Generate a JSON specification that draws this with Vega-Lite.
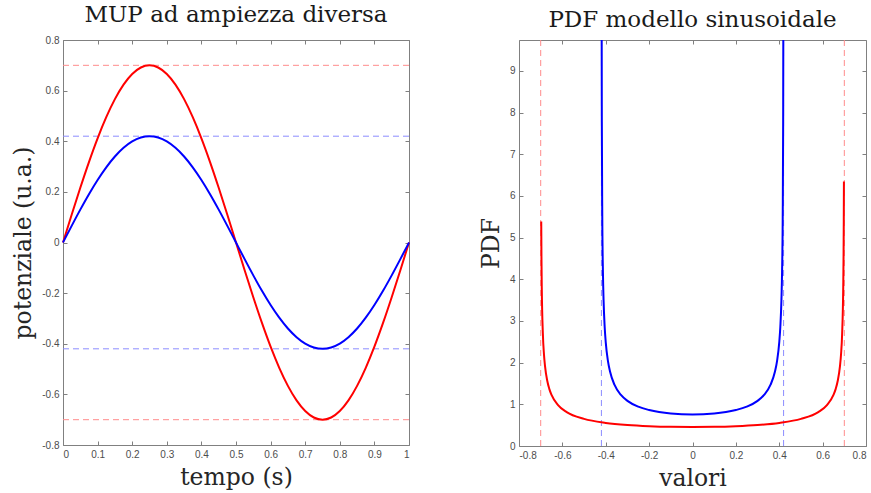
{
  "$schema": "https://vega.github.io/schema/vega-lite/v6.json",
  "padding": {"left": 11, "top": 3, "right": 0, "bottom": 0},
  "spacing": 64,
  "config": {
    "view": {"stroke": "#808080", "strokeWidth": 1},
    "axis": {
      "grid": false,
      "domain": false,
      "tickColor": "#808080",
      "tickSize": -4,
      "labelPadding": 8,
      "labelFont": "Liberation Sans",
      "labelFontSize": 10,
      "labelColor": "#4d4d4d",
      "titleFont": "DejaVu Serif",
      "titleFontSize": 23.5,
      "titleFontWeight": "normal",
      "titleColor": "#262626"
    },
    "title": {"font": "DejaVu Serif", "fontSize": 23, "fontWeight": "normal", "color": "#1a1a1a", "offset": 8}
  },
  "datasets": {
    "sine": [
      {"t": 0, "r": 0, "b": 0},
      {"t": 0.025, "r": 0.1095, "b": 0.0657},
      {"t": 0.05, "r": 0.2163, "b": 0.1298},
      {"t": 0.075, "r": 0.3178, "b": 0.1907},
      {"t": 0.1, "r": 0.4115, "b": 0.2469},
      {"t": 0.125, "r": 0.495, "b": 0.297},
      {"t": 0.15, "r": 0.5663, "b": 0.3398},
      {"t": 0.175, "r": 0.6237, "b": 0.3742},
      {"t": 0.2, "r": 0.6657, "b": 0.3994},
      {"t": 0.225, "r": 0.6914, "b": 0.4148},
      {"t": 0.25, "r": 0.7, "b": 0.42},
      {"t": 0.275, "r": 0.6914, "b": 0.4148},
      {"t": 0.3, "r": 0.6657, "b": 0.3994},
      {"t": 0.325, "r": 0.6237, "b": 0.3742},
      {"t": 0.35, "r": 0.5663, "b": 0.3398},
      {"t": 0.375, "r": 0.495, "b": 0.297},
      {"t": 0.4, "r": 0.4115, "b": 0.2469},
      {"t": 0.425, "r": 0.3178, "b": 0.1907},
      {"t": 0.45, "r": 0.2163, "b": 0.1298},
      {"t": 0.475, "r": 0.1095, "b": 0.0657},
      {"t": 0.5, "r": 0, "b": 0},
      {"t": 0.525, "r": -0.1095, "b": -0.0657},
      {"t": 0.55, "r": -0.2163, "b": -0.1298},
      {"t": 0.575, "r": -0.3178, "b": -0.1907},
      {"t": 0.6, "r": -0.4115, "b": -0.2469},
      {"t": 0.625, "r": -0.495, "b": -0.297},
      {"t": 0.65, "r": -0.5663, "b": -0.3398},
      {"t": 0.675, "r": -0.6237, "b": -0.3742},
      {"t": 0.7, "r": -0.6657, "b": -0.3994},
      {"t": 0.725, "r": -0.6914, "b": -0.4148},
      {"t": 0.75, "r": -0.7, "b": -0.42},
      {"t": 0.775, "r": -0.6914, "b": -0.4148},
      {"t": 0.8, "r": -0.6657, "b": -0.3994},
      {"t": 0.825, "r": -0.6237, "b": -0.3742},
      {"t": 0.85, "r": -0.5663, "b": -0.3398},
      {"t": 0.875, "r": -0.495, "b": -0.297},
      {"t": 0.9, "r": -0.4115, "b": -0.2469},
      {"t": 0.925, "r": -0.3178, "b": -0.1907},
      {"t": 0.95, "r": -0.2163, "b": -0.1298},
      {"t": 0.975, "r": -0.1095, "b": -0.0657},
      {"t": 1, "r": 0, "b": 0}
    ],
    "pdfRed": [
      {"x": -0.6975, "p": 5.385},
      {"x": -0.6965, "p": 4.553},
      {"x": -0.695, "p": 3.811},
      {"x": -0.69, "p": 2.7},
      {"x": -0.685, "p": 2.208},
      {"x": -0.68, "p": 1.916},
      {"x": -0.67, "p": 1.57},
      {"x": -0.66, "p": 1.365},
      {"x": -0.65, "p": 1.225},
      {"x": -0.62, "p": 0.98},
      {"x": -0.58, "p": 0.812},
      {"x": -0.5, "p": 0.65},
      {"x": -0.4, "p": 0.554},
      {"x": -0.3, "p": 0.503},
      {"x": -0.2, "p": 0.4745},
      {"x": -0.1, "p": 0.459},
      {"x": 0, "p": 0.4547},
      {"x": 0.1, "p": 0.459},
      {"x": 0.2, "p": 0.4745},
      {"x": 0.3, "p": 0.503},
      {"x": 0.4, "p": 0.554},
      {"x": 0.5, "p": 0.65},
      {"x": 0.58, "p": 0.812},
      {"x": 0.62, "p": 0.98},
      {"x": 0.65, "p": 1.225},
      {"x": 0.66, "p": 1.365},
      {"x": 0.67, "p": 1.57},
      {"x": 0.68, "p": 1.916},
      {"x": 0.685, "p": 2.208},
      {"x": 0.69, "p": 2.7},
      {"x": 0.695, "p": 3.811},
      {"x": 0.6965, "p": 4.553},
      {"x": 0.6975, "p": 5.385},
      {"x": 0.6982, "p": 6.345}
    ],
    "pdfBlue": [
      {"x": -0.4195, "p": 15.53},
      {"x": -0.419, "p": 10.99},
      {"x": -0.418, "p": 7.775},
      {"x": -0.416, "p": 5.504},
      {"x": -0.413, "p": 4.168},
      {"x": -0.41, "p": 3.494},
      {"x": -0.405, "p": 2.861},
      {"x": -0.4, "p": 2.486},
      {"x": -0.39, "p": 2.042},
      {"x": -0.38, "p": 1.779},
      {"x": -0.36, "p": 1.471},
      {"x": -0.33, "p": 1.225},
      {"x": -0.3, "p": 1.083},
      {"x": -0.25, "p": 0.943},
      {"x": -0.2, "p": 0.862},
      {"x": -0.1, "p": 0.78},
      {"x": 0, "p": 0.758},
      {"x": 0.1, "p": 0.78},
      {"x": 0.2, "p": 0.862},
      {"x": 0.25, "p": 0.943},
      {"x": 0.3, "p": 1.083},
      {"x": 0.33, "p": 1.225},
      {"x": 0.36, "p": 1.471},
      {"x": 0.38, "p": 1.779},
      {"x": 0.39, "p": 2.042},
      {"x": 0.4, "p": 2.486},
      {"x": 0.405, "p": 2.861},
      {"x": 0.41, "p": 3.494},
      {"x": 0.413, "p": 4.168},
      {"x": 0.416, "p": 5.504},
      {"x": 0.418, "p": 7.775},
      {"x": 0.419, "p": 10.99},
      {"x": 0.4195, "p": 15.53}
    ],
    "hlines": [
      {"v": 0.7, "s": "r"},
      {"v": -0.7, "s": "r"},
      {"v": 0.42, "s": "b"},
      {"v": -0.42, "s": "b"}
    ]
  },
  "hconcat": [
    {
      "width": 346,
      "height": 405,
      "title": {"text": "MUP ad ampiezza diversa"},
      "resolve": {"axis": {"x": "independent", "y": "independent"}},
      "layer": [
        {
          "data": {"name": "hlines"},
          "mark": {"type": "rule", "strokeDash": [6, 4], "strokeWidth": 1},
          "encoding": {
            "y": {"field": "v", "type": "quantitative", "scale": {"domain": [-0.8, 0.8], "nice": false}, "axis": null},
            "color": {"field": "s", "type": "nominal", "scale": {"domain": ["r", "b"], "range": ["#ff8c8c", "#8c8cff"]}, "legend": null}
          }
        },
        {
          "data": {"name": "sine"},
          "mark": {"type": "line", "color": "#ff0000", "strokeWidth": 2, "interpolate": "monotone"},
          "encoding": {
            "x": {"field": "t", "type": "quantitative", "scale": {"domain": [0, 1], "nice": false},
              "axis": {"values": [0, 0.1, 0.2, 0.3, 0.4, 0.5, 0.6, 0.7, 0.8, 0.9, 1], "labelExpr": "'' + datum.value", "title": "tempo (s)", "titlePadding": 6}},
            "y": {"field": "r", "type": "quantitative", "scale": {"domain": [-0.8, 0.8], "nice": false},
              "axis": {"values": [-0.8, -0.6, -0.4, -0.2, 0, 0.2, 0.4, 0.6, 0.8], "labelExpr": "'' + datum.value", "title": "potenziale (u.a.)", "titlePadding": 6}}
          }
        },
        {
          "data": {"name": "sine"},
          "mark": {"type": "line", "color": "#0000ff", "strokeWidth": 2, "interpolate": "monotone"},
          "encoding": {
            "x": {"field": "t", "type": "quantitative", "scale": {"domain": [0, 1], "nice": false},
              "axis": {"orient": "top", "values": [0, 0.1, 0.2, 0.3, 0.4, 0.5, 0.6, 0.7, 0.8, 0.9, 1], "labels": false, "title": null}},
            "y": {"field": "b", "type": "quantitative", "scale": {"domain": [-0.8, 0.8], "nice": false},
              "axis": {"orient": "right", "values": [-0.8, -0.6, -0.4, -0.2, 0, 0.2, 0.4, 0.6, 0.8], "labels": false, "title": null}}
          }
        }
      ]
    },
    {
      "width": 347,
      "height": 406,
      "title": {"text": "PDF modello sinusoidale"},
      "resolve": {"axis": {"x": "independent", "y": "independent"}},
      "layer": [
        {
          "data": {"name": "hlines"},
          "mark": {"type": "rule", "strokeDash": [6, 4], "strokeWidth": 1},
          "encoding": {
            "x": {"field": "v", "type": "quantitative", "scale": {"domain": [-0.8, 0.8], "nice": false}, "axis": null},
            "color": {"field": "s", "type": "nominal", "scale": {"domain": ["r", "b"], "range": ["#ff8c8c", "#8c8cff"]}, "legend": null}
          }
        },
        {
          "data": {"name": "pdfRed"},
          "mark": {"type": "line", "color": "#ff0000", "strokeWidth": 2, "interpolate": "monotone", "clip": true},
          "encoding": {
            "x": {"field": "x", "type": "quantitative", "scale": {"domain": [-0.8, 0.8], "nice": false},
              "axis": {"values": [-0.8, -0.6, -0.4, -0.2, 0, 0.2, 0.4, 0.6, 0.8], "labelExpr": "'' + datum.value", "title": "valori", "titlePadding": 6}},
            "y": {"field": "p", "type": "quantitative", "scale": {"domain": [0, 9.74], "nice": false},
              "axis": {"values": [0, 1, 2, 3, 4, 5, 6, 7, 8, 9], "title": "PDF", "titlePadding": 6}}
          }
        },
        {
          "data": {"name": "pdfBlue"},
          "mark": {"type": "line", "color": "#0000ff", "strokeWidth": 2, "interpolate": "monotone", "clip": true},
          "encoding": {
            "x": {"field": "x", "type": "quantitative", "scale": {"domain": [-0.8, 0.8], "nice": false},
              "axis": {"orient": "top", "values": [-0.8, -0.6, -0.4, -0.2, 0, 0.2, 0.4, 0.6, 0.8], "labels": false, "title": null}},
            "y": {"field": "p", "type": "quantitative", "scale": {"domain": [0, 9.74], "nice": false},
              "axis": {"orient": "right", "values": [0, 1, 2, 3, 4, 5, 6, 7, 8, 9], "labels": false, "title": null}}
          }
        }
      ]
    }
  ]
}
